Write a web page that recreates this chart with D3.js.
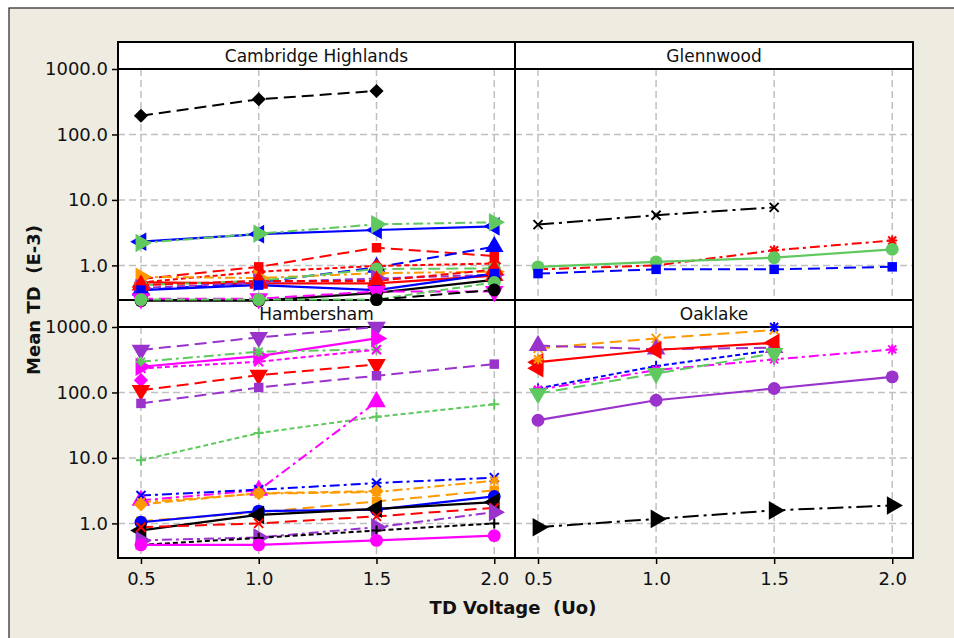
<!DOCTYPE html>
<html>
<head>
<meta charset="utf-8">
<script src="https://cdn.jsdelivr.net/npm/d3@7"></script>
<style>
body { margin: 0; background: #fff; }
svg { display: block; }
text { font-family: "DejaVu Sans", sans-serif; fill: #111; }
</style>
</head>
<body>
<svg id="chart" width="954" height="638"></svg>
<script>
// data
const voltages = [0.5, 1.0, 1.5, 2.0];
const panelNames = ["Cambridge Highlands", "Glennwood", "Hambersham", "Oaklake"];
const yTicks = [1, 10, 100, 1000];
const yTickLabels = ["1.0", "10.0", "100.0", "1000.0"];
const xTickLabels = ["0.5", "1.0", "1.5", "2.0"];

const cambridgeValues = [
  [193, 345, 462, null],
  [2.3, 3.0, 3.47, 3.95],
  [2.2, 3.05, 4.24, 4.55],
  [0.62, 0.95, 1.86, 1.39],
  [0.42, 0.55, 0.93, 1.93],
  [0.55, 0.8, 0.98, 1.07],
  [0.55, 0.53, 0.53, 0.7],
  [0.67, 0.64, 0.76, 0.8],
  [0.5, 0.58, 0.88, 0.9],
  [0.45, 0.55, 0.63, 0.72],
  [0.5, 0.58, 0.58, 0.86],
  [0.29, 0.29, 0.38, 0.6],
  [0.42, 0.5, 0.42, 0.75],
  [0.31, 0.31, 0.4, 0.4],
  [0.3, 0.3, 0.3, 0.55],
  [null, null, 0.3, 0.42]
];
const glennwoodValues = [
  [4.2, 5.85, 7.7, null],
  [0.87, 1.0, 1.7, 2.4],
  [0.95, 1.13, 1.31, 1.76],
  [0.75, 0.87, 0.87, 0.95]
];
const hambershamValues = [
  [445, 695, 1000, null],
  [247, 360, 670, null],
  [295, 419, 455, null],
  [233, 295, 450, null],
  [154, null, null, null],
  [108, 184, 268, null],
  [68, 119, 180, 271],
  [9.2, 24, 42.4, 66],
  [2.25, 3.2, 72, null],
  [2.67, 3.27, 4.13, 5.0],
  [2.1, 2.85, 3.0, 4.5],
  [1.95, 2.9, 3.1, null],
  [1.08, 1.48, 2.16, 3.19],
  [1.04, 1.54, 1.62, 2.58],
  [0.78, 1.35, 1.67, 2.11],
  [0.875, 1.0, 1.28, 1.73],
  [0.55, 0.61, 0.875, 1.48],
  [0.47, 0.6, 0.78, 1.0],
  [0.47, 0.47, 0.55, 0.65]
];
const oaklakeValues = [
  [471, 670, 900, null],
  [115, 253, 445, null],
  [null, null, 1000, null],
  [520, 458, 482, null],
  [290, 445, 574, null],
  [235, null, null, null],
  [321, null, null, null],
  [110, 220, 320, 455],
  [96, 195, 395, null],
  [37.7, 76, 115, 173],
  [0.875, 1.17, 1.58, 1.88]
];

// colour, dash, marker for each series above
const cambridgeStyles = [
  ["black", "long", "diamond"], ["blue", "solid", "left"], ["green", "dashdot", "right"],
  ["red", "long", "square"], ["blue", "long", "up"], ["red", "short", "diamond"],
  ["red", "solid", "up"], ["orange", "dashdot", "right"], ["green", "long", "circle"],
  ["purple", "dash", "right"], ["red", "dash", "up"], ["black", "solid", "circle"],
  ["blue", "solid", "square"], ["magenta", "long", "down"], ["green", "dash", "circle"],
  ["black", "long", "circle"]
];
const glennwoodStyles = [
  ["black", "longdashdot", "times"], ["red", "dashdot", "asterisk"],
  ["green", "solid", "circle"], ["blue", "long", "square"]
];
const hambershamStyles = [
  ["purple", "long", "down"], ["magenta", "solid", "right"], ["green", "dashdot", "asterisk"],
  ["magenta", "short", "times"], ["magenta", "solid", "diamond"], ["red", "long", "down"],
  ["purple", "long", "square"], ["green", "short", "plus"], ["magenta", "dashdot", "up"],
  ["blue", "dashdot", "times"], ["orange", "dashdot", "asterisk"], ["orange", "dash", "diamond"],
  ["orange", "long", "square"], ["blue", "solid", "circle"], ["black", "solid", "left"],
  ["red", "long", "times"], ["purple", "dashdot", "right"], ["black", "short", "plus"],
  ["magenta", "solid", "circle"]
];
const oaklakeStyles = [
  ["orange", "long", "times"], ["blue", "short", "plus"], ["blue", "short", "asterisk"],
  ["purple", "long", "up"], ["red", "solid", "left"], ["red", "solid", "left"],
  ["orange", "long", "asterisk"], ["magenta", "dashdot", "asterisk"], ["green", "long", "down"],
  ["purple", "solid", "circle"], ["black", "longdashdot", "right"]
];

const panelValues = [cambridgeValues, glennwoodValues, hambershamValues, oaklakeValues];
const panelStyles = [cambridgeStyles, glennwoodStyles, hambershamStyles, oaklakeStyles];

const colors = {
  black: "#000000", blue: "#0000ff", red: "#ff0000", green: "#5fc85f",
  orange: "#ff9900", purple: "#9933cc", magenta: "#ff00ff"
};
const dashes = {
  solid: null, long: "12,6", dash: "8,4", short: "5,3",
  dashdot: "10,4,3,4", longdashdot: "16,5,3,5"
};

const svg = d3.select("#chart");

// beige page with frame
svg.append("rect").attr("x", 9).attr("y", 8).attr("width", 960).attr("height", 640)
  .attr("fill", "#eeebe1").attr("stroke", "#222").attr("stroke-width", 1.2);

const frameLeft = 118, frameMid = 515, frameRight = 913, frameTop = 42;
const stripH = 27, dataH = 231;

const panels = [
  {x0: frameLeft, x1: frameMid, y0: frameTop},
  {x0: frameMid, x1: frameRight, y0: frameTop},
  {x0: frameLeft, x1: frameMid, y0: frameTop + stripH + dataH},
  {x0: frameMid, x1: frameRight, y0: frameTop + stripH + dataH}
];

const markerPath = (shape) =>
{
  switch (shape)
  {
    case "circle": return d3.symbol(d3.symbolCircle, 130)();
    case "square": return d3.symbol(d3.symbolSquare, 90)();
    case "diamond": return d3.symbol(d3.symbolSquare, 100)();
    case "up": case "down": case "left": case "right":
      return d3.symbol(d3.symbolTriangle, 150)();
    case "plus": return "M-5,0H5M0,-5V5";
    case "times": return "M-4.5,-4.5L4.5,4.5M-4.5,4.5L4.5,-4.5";
    case "asterisk": return "M-5,0H5M0,-5V5M-4,-4L4,4M-4,4L4,-4";
  }
};
const markerRotate = {diamond: 45, down: 180, left: -90, right: 90, up: 0};
const strokeShapes = ["plus", "times", "asterisk"];

const layerBack = svg.append("g");
const layerData = svg.append("g");

panels.forEach((p, i) =>
{
  const x = d3.scaleLinear().domain([0.4025, 2.088]).range([p.x0, p.x1]);
  const y = d3.scaleLog().domain([0.296, 1000]).range([p.y0 + stripH + dataH, p.y0 + stripH]);
  const dTop = p.y0 + stripH, dBot = p.y0 + stripH + dataH;

  // strip and plot area
  layerBack.append("rect").attr("x", p.x0).attr("y", p.y0).attr("width", p.x1 - p.x0).attr("height", stripH)
    .attr("fill", "#fff").attr("stroke", "#000").attr("stroke-width", 2);
  layerBack.append("text").attr("x", (p.x0 + p.x1) / 2).attr("y", p.y0 + 19.5)
    .attr("text-anchor", "middle").attr("font-size", 17).text(panelNames[i]);
  layerBack.append("rect").attr("x", p.x0).attr("y", dTop).attr("width", p.x1 - p.x0).attr("height", dataH)
    .attr("fill", "#fff");

  // grid
  layerBack.selectAll(null).data(voltages).enter().append("line")
    .attr("x1", d => x(d)).attr("x2", d => x(d)).attr("y1", dTop).attr("y2", dBot)
    .attr("stroke", "#c0c0c0").attr("stroke-width", 1.5).attr("stroke-dasharray", "7,4");
  layerBack.selectAll(null).data(yTicks.slice(0, 3)).enter().append("line")
    .attr("x1", p.x0).attr("x2", p.x1).attr("y1", d => y(d)).attr("y2", d => y(d))
    .attr("stroke", "#c0c0c0").attr("stroke-width", 1.5).attr("stroke-dasharray", "7,4");

  layerBack.append("rect").attr("x", p.x0).attr("y", dTop).attr("width", p.x1 - p.x0).attr("height", dataH)
    .attr("fill", "none").attr("stroke", "#000").attr("stroke-width", 2);

  // axes on the outer sides
  if (p.x0 === frameLeft)
  {
    const ay = d3.axisLeft(y).tickValues(yTicks).tickSize(6).tickPadding(4)
      .tickFormat((d, k) => yTickLabels[k]);
    const g = layerBack.append("g").attr("transform", `translate(${p.x0},0)`).call(ay);
    g.select(".domain").remove();
    g.selectAll("line").attr("stroke", "#000").attr("stroke-width", 1.5);
    g.selectAll("text").attr("font-size", 18).attr("font-family", "DejaVu Sans").attr("fill", "#111");
  }
  if (i >= 2)
  {
    const ax = d3.axisBottom(x).tickValues(voltages).tickSize(6).tickPadding(8)
      .tickFormat((d, k) => xTickLabels[k]);
    const g = layerBack.append("g").attr("transform", `translate(0,${dBot})`).call(ax);
    g.select(".domain").remove();
    g.selectAll("line").attr("stroke", "#000").attr("stroke-width", 1.5);
    g.selectAll("text").attr("font-size", 18).attr("font-family", "DejaVu Sans").attr("fill", "#111");
  }

  // series
  const line = d3.line().defined(d => d[1] != null).x(d => x(d[0])).y(d => y(d[1]));
  panelValues[i].forEach((vals, s) =>
  {
    const st = panelStyles[i][s];
    const pts = vals.map((v, k) => [voltages[k], v]);
    layerData.append("path").datum(pts).attr("d", line)
      .attr("fill", "none").attr("stroke", colors[st[0]])
      .attr("stroke-width", st[1] === "solid" ? 2.2 : 2)
      .attr("stroke-dasharray", dashes[st[1]]);
  });
  panelValues[i].forEach((vals, s) =>
  {
    const st = panelStyles[i][s];
    const pts = vals.map((v, k) => [voltages[k], v]).filter(d => d[1] != null);
    const isStroke = strokeShapes.includes(st[2]);
    layerData.selectAll(null).data(pts).enter().append("path")
      .attr("d", markerPath(st[2]))
      .attr("transform", d => `translate(${x(d[0])},${y(d[1])}) rotate(${markerRotate[st[2]] || 0})`)
      .attr("fill", isStroke ? "none" : colors[st[0]])
      .attr("stroke", isStroke ? colors[st[0]] : "none")
      .attr("stroke-width", 2);
  });
});

// axis titles
svg.append("text").attr("x", 513).attr("y", 614).attr("text-anchor", "middle")
  .attr("font-size", 18).attr("font-weight", "bold").style("white-space", "pre")
  .text("TD Voltage  (Uo)");
svg.append("text").attr("transform", "translate(40,300) rotate(-90)").attr("text-anchor", "middle")
  .attr("font-size", 18).attr("font-weight", "bold").style("white-space", "pre")
  .text("Mean TD  (E-3)");
</script>
</body>
</html>
